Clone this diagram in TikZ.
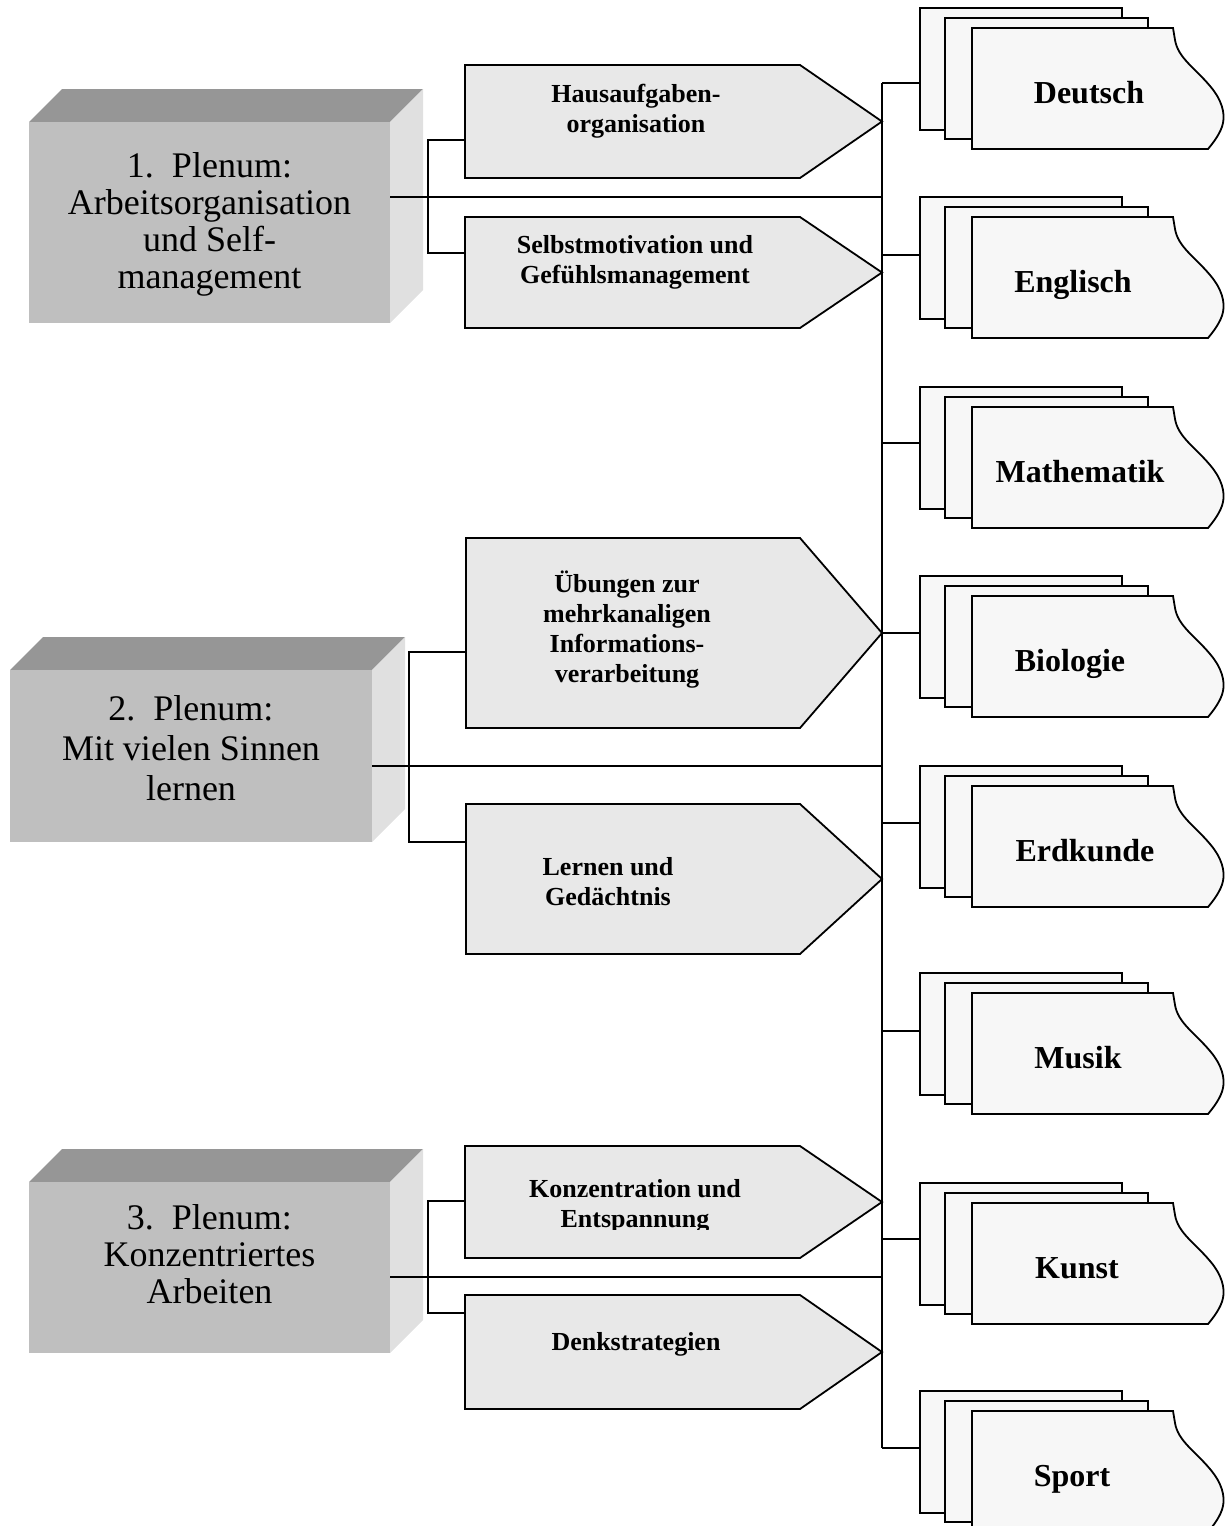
\documentclass[tikz,border=0pt]{standalone}
\usepackage{fontspec}
\setmainfont{Liberation Serif}
\usetikzlibrary{calc}

\definecolor{boxfront}{gray}{0.75}
\definecolor{boxtop}{gray}{0.59}
\definecolor{boxside}{gray}{0.88}
\definecolor{pentfill}{gray}{0.91}
\definecolor{sheetfill}{gray}{0.97}

\tikzset{
  link/.style={draw=black, line width=0.9pt},
  outline/.style={draw=black, line width=0.9pt, line join=miter},
  pentagon/.style={outline, fill=pentfill},
  sheet/.style={outline, fill=sheetfill},
  plenumtext/.style={align=center, inner sep=0pt, font=\fontsize{18}{18.5}\selectfont},
  topictext/.style={align=center, inner sep=0pt, font=\fontsize{13}{15}\selectfont\bfseries},
  subjecttext/.style={anchor=base, inner sep=0pt, font=\fontsize{16}{19}\selectfont\bfseries},
}

% 3D block: left, top, right, bottom of the front face (depth 33)
\newcommand{\plenumblock}[4]{%
  \fill[boxtop] (#1,#2) -- (#1+33,#2-33) -- (#3+33,#2-33) -- (#3,#2) -- cycle;
  \fill[boxside] (#3,#2) -- (#3+33,#2-33) -- (#3+33,#4-33) -- (#3,#4) -- cycle;
  \fill[boxfront] (#1,#2) rectangle (#3,#4);
}

% topic arrow: left, top, bottom
\newcommand{\topicarrow}[3]{%
  \draw[pentagon] (#1,#2) -- (800,#2) -- (882,{(#2+#3)/2}) -- (800,#3) -- (#1,#3) -- cycle;
}

% stack of three sheets: name, top of back sheet, connector y, label x, label
\newcommand{\subjectstack}[5]{%
  \draw[sheet] (920,#2) rectangle (1122,#2+122);
  \draw[sheet] (945,#2+10) rectangle (1148,#2+131);
  \draw[sheet] (972,#2+20) -- (1173,#2+20) -- (1175,#2+32)
     .. controls (1178,#2+50) and (1195,#2+60) .. (1210,#2+78)
     .. controls (1222,#2+92) and (1225,#2+105) .. (1223,#2+115)
     .. controls (1221,#2+125) and (1213,#2+135) .. (1208,#2+141)
     -- (972,#2+141) -- cycle;
  \coordinate (#1-in) at (920,#3);
  \node[subjecttext] (#1) at (#4,#2+95) {#5};
}

\begin{document}
\begin{tikzpicture}[x=0.5pt, y=-0.5pt]
\clip (0,0) rectangle (1225,1526);

\coordinate (spine) at (882,0);

% subject stacks on the right
\subjectstack{deu}{8}{83}{1089}{Deutsch}
\subjectstack{eng}{197}{255}{1073}{Englisch}
\subjectstack{mat}{387}{443}{1080}{Mathematik}
\subjectstack{bio}{576}{633}{1070}{Biologie}
\subjectstack{erd}{766}{823}{1085}{Erdkunde}
\subjectstack{mus}{973}{1031}{1078}{Musik}
\subjectstack{kun}{1183}{1239}{1077}{Kunst}
\subjectstack{spo}{1391}{1448}{1072}{Sport}

% vertical spine and its branches to the subjects
\draw[link] (spine |- deu-in) -- (spine |- spo-in);
\foreach \s in {deu,eng,mat,bio,erd,mus,kun,spo}
  \draw[link] (spine |- \s-in) -- (\s-in);

% plenum blocks
\plenumblock{29}{122}{390}{323}
\plenumblock{10}{670}{372}{842}
\plenumblock{29}{1182}{390}{1353}

\node[plenumtext] (pl1) at (209.5,224.5) {1.\ \ Plenum:\\Arbeitsorganisation\\und Self-\\management};
\node[plenumtext, font=\fontsize{18}{20}\selectfont] (pl2) at (191,748) {2.\ \ Plenum:\\Mit vielen Sinnen\\lernen};
\node[plenumtext] (pl3) at (209.5,1254) {3.\ \ Plenum:\\Konzentriertes\\Arbeiten};

% connection points
\coordinate (pl1-out) at (390,197);
\coordinate (pl2-out) at (372,766);
\coordinate (pl3-out) at (390,1277);
\coordinate (fork1) at (428,197);
\coordinate (fork2) at (409,766);
\coordinate (fork3) at (428,1277);
\coordinate (t1-in) at (465,140);
\coordinate (t2-in) at (465,253);
\coordinate (t3-in) at (466,652);
\coordinate (t4-in) at (466,842);
\coordinate (t5-in) at (465,1201);
\coordinate (t6-in) at (465,1313);

% plenum lines to the spine and forks to the topics
\draw[link] (pl1-out) -- (pl1-out -| spine);
\draw[link] (pl2-out) -- (pl2-out -| spine);
\draw[link] (pl3-out) -- (pl3-out -| spine);
\draw[link] (t1-in) -| (fork1) |- (t2-in);
\draw[link] (t3-in) -| (fork2) |- (t4-in);
\draw[link] (t5-in) -| (fork3) |- (t6-in);

% topic arrows
\topicarrow{465}{65}{178}
\topicarrow{465}{217}{328}
\topicarrow{466}{538}{728}
\topicarrow{466}{804}{954}
\topicarrow{465}{1146}{1258}
\topicarrow{465}{1295}{1409}

\node[topictext] (t1) at (636,111) {Hausaufgaben-\\organisation};
\node[topictext] (t2) at (635,262) {Selbstmotivation und\\Gefühlsmanagement};
\node[topictext] (t3) at (627,630) {Übungen zur\\mehrkanaligen\\Informations-\\verarbeitung};
\node[topictext] (t4) at (608,882) {Lernen und\\Gedächtnis};
\begin{scope}
  \clip (465,1146) rectangle (800,1229);
  \node[topictext] (t5) at (635,1206) {Konzentration und\\Entspannung};
\end{scope}
\node[topictext] (t6) at (636,1344) {Denkstrategien};

\end{tikzpicture}
\end{document}
